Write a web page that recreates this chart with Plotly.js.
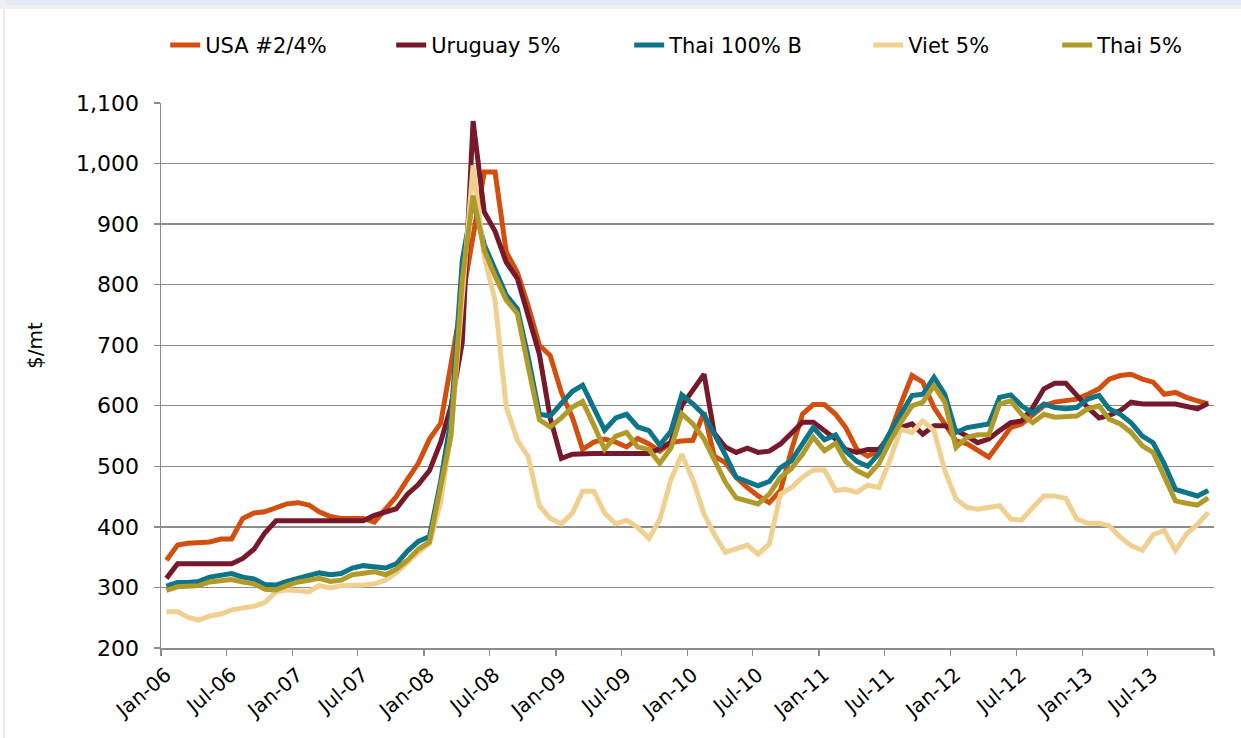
<!DOCTYPE html>
<html>
<head>
<meta charset="utf-8">
<script src="https://cdn.plot.ly/plotly-3.0.1.min.js"></script>
<style>
  html, body { margin: 0; padding: 0; background: #ffffff; }
  #wrap { position: relative; width: 1241px; height: 738px; overflow: hidden; }
  #topgrey { position: absolute; left: 0; top: 0; width: 1241px; height: 9px; background: #efefef; }
  #topblue { position: absolute; left: 6px; top: 0; width: 1235px; height: 5px; background: #e3eaf6; }
  #leftline { position: absolute; left: 3px; top: 9px; width: 2px; height: 729px; background: #ececec; }
  #chart { position: absolute; left: 0; top: 0; width: 1241px; height: 738px; }
</style>
</head>
<body>
<div id="wrap">
  <div id="topgrey"></div>
  <div id="topblue"></div>
  <div id="leftline"></div>
  <div id="chart"></div>
</div>
<script>
// Monthly prices, Jan-2006 .. Dec-2013 ($/mt)
const startYear = 2006;
const nMonths = 96;

const usa = [345,370,373,373,375,380,380,414,423,425,432,438,
             440,436,425,417,414,414,414,408,430,450,479,505,
             545,571,670,772,880,986,986,854,820,765,700,683,
             622,580,528,540,545,540,532,546,537,525,539,542,
             543,589,517,506,482,465,451,440,460,526,586,602,
             602,586,564,528,517,526,553,603,650,639,597,570,
             542,537,526,515,539,564,570,586,600,606,608,611,
             619,628,644,650,652,644,639,619,622,614,608,603];

const uruguay = [315,339,339,339,339,339,339,348,363,390,410,410,
                 410,410,410,410,410,410,410,419,425,430,454,470,
                 493,540,600,705,1070,920,888,837,810,750,685,580,
                 513,520,521,521,521,521,521,521,521,529,540,600,
                 625,652,555,532,523,530,523,525,537,554,573,573,
                 559,545,528,523,528,528,548,564,570,553,567,567,
                 559,550,539,545,559,572,575,597,628,637,637,617,
                 597,580,584,592,606,603,604,603,603,600,595,604];

const thai100b = [302,308,308,310,317,319,323,317,314,305,304,310,
                  316,320,324,321,323,332,336,335,332,339,360,376,
                  384,475,580,840,940,866,825,783,760,680,586,583,
                  604,624,634,595,560,580,586,565,559,535,558,618,
                  603,585,555,519,482,475,468,475,498,509,537,564,
                  544,552,525,508,500,521,555,586,617,619,647,619,
                  556,564,567,570,614,618,600,588,603,597,595,597,
                  611,617,595,586,572,550,539,504,462,457,451,460];

const viet5 = [260,260,251,246,253,256,263,266,269,275,293,296,
               294,293,303,299,303,303,304,306,312,324,342,358,
               372,441,555,770,997,846,774,598,543,516,435,414,
               405,423,459,459,423,405,411,399,381,412,478,520,
               478,421,388,358,363,370,355,372,454,465,482,494,
               494,460,462,457,469,465,509,561,556,575,559,493,
               446,432,429,432,435,413,411,432,451,451,447,413,
               406,406,402,383,369,361,387,394,361,388,404,424];

const thai5 = [295,301,302,303,309,312,313,309,306,297,296,303,
               309,312,315,310,312,321,324,326,321,330,345,363,
               375,465,552,808,947,857,814,775,752,664,577,565,
               580,598,607,568,528,550,556,532,528,505,530,587,
               570,545,510,474,448,443,438,454,482,496,520,548,
               526,538,508,493,484,504,540,572,600,606,633,606,
               531,548,552,552,603,608,586,572,586,581,582,583,
               595,600,578,570,556,534,523,484,443,439,436,448];

const seriesNames = ['USA #2/4%', 'Uruguay 5%', 'Thai 100% B', 'Viet 5%', 'Thai 5%'];
const seriesColors = ['#D24F0F', '#761A2B', '#0E7487', '#F0D090', '#B09B2A'];
const seriesValues = [usa, uruguay, thai100b, viet5, thai5];
const legendWidths = [181, 193, 194, 144, 90];

const tickLabels = ['Jan-06','Jul-06','Jan-07','Jul-07','Jan-08','Jul-08','Jan-09','Jul-09',
                    'Jan-10','Jul-10','Jan-11','Jul-11','Jan-12','Jul-12','Jan-13','Jul-13',''];

// month dates (plotted at mid-month)
function pad(n) { return n < 10 ? '0' + n : '' + n; }
const dates = [];
for (let i = 0; i < nMonths; i++) {
  const y = startYear + Math.floor(i / 12);
  const m = (i % 12) + 1;
  dates.push(y + '-' + pad(m) + '-16');
}
const tickDates = [];
for (let k = 0; k < tickLabels.length; k++) {
  const mi = k * 6;
  const y = startYear + Math.floor(mi / 12);
  const m = (mi % 12) + 1;
  tickDates.push(y + '-' + pad(m) + '-01');
}

const traces = seriesValues.map((vals, idx) => ({
  x: dates,
  y: vals,
  type: 'scatter',
  mode: 'lines',
  name: seriesNames[idx],
  legendwidth: legendWidths[idx],
  line: { color: seriesColors[idx], width: 5 },
  hoverinfo: 'x+y+name'
}));

const fam = 'DejaVu Sans, Arial, sans-serif';

const layout = {
  width: 1241,
  height: 738,
  margin: { l: 161, r: 27, t: 103, b: 90, pad: 0, autoexpand: false },
  paper_bgcolor: 'rgba(0,0,0,0)',
  plot_bgcolor: 'rgba(0,0,0,0)',
  font: { family: fam, size: 20, color: '#000' },
  showlegend: true,
  legend: {
    orientation: 'h',
    x: 0.004,
    xanchor: 'left',
    y: 1.106,
    yanchor: 'middle',
    font: { family: fam, size: 21, color: '#000' },
    bgcolor: 'rgba(0,0,0,0)',
    itemwidth: 30,
    traceorder: 'normal'
  },
  xaxis: {
    type: 'date',
    range: ['2006-01-01', '2014-01-01'],
    tickmode: 'array',
    tickvals: tickDates,
    ticktext: tickLabels,
    tickangle: -40,
    ticklabelshift: 5,
    ticks: 'outside',
    ticklen: 6,
    tickwidth: 1.3,
    tickcolor: '#8c8c8c',
    showline: true,
    linecolor: '#8c8c8c',
    linewidth: 1.5,
    showgrid: false,
    zeroline: false,
    tickfont: { family: fam, size: 20, color: '#000' }
  },
  yaxis: {
    range: [200, 1100],
    tickmode: 'linear',
    tick0: 200,
    dtick: 100,
    tickformat: ',d',
    ticks: 'outside',
    ticklen: 6,
    tickwidth: 1.3,
    tickcolor: '#8c8c8c',
    showline: true,
    linecolor: '#8c8c8c',
    linewidth: 1.5,
    showgrid: true,
    gridcolor: '#8c8c8c',
    gridwidth: 1.3,
    zeroline: false,
    ticklabelstandoff: 10,
    tickfont: { family: fam, size: 22, color: '#000' }
  },
  annotations: [{
    text: '$/mt',
    xref: 'paper', yref: 'paper',
    x: -0.1197, y: 0.556,
    xanchor: 'center', yanchor: 'middle',
    textangle: -90,
    showarrow: false,
    font: { family: fam, size: 20, color: '#000' }
  }]
};

Plotly.newPlot('chart', traces, layout, { displayModeBar: false, staticPlot: true });
</script>
</body>
</html>
